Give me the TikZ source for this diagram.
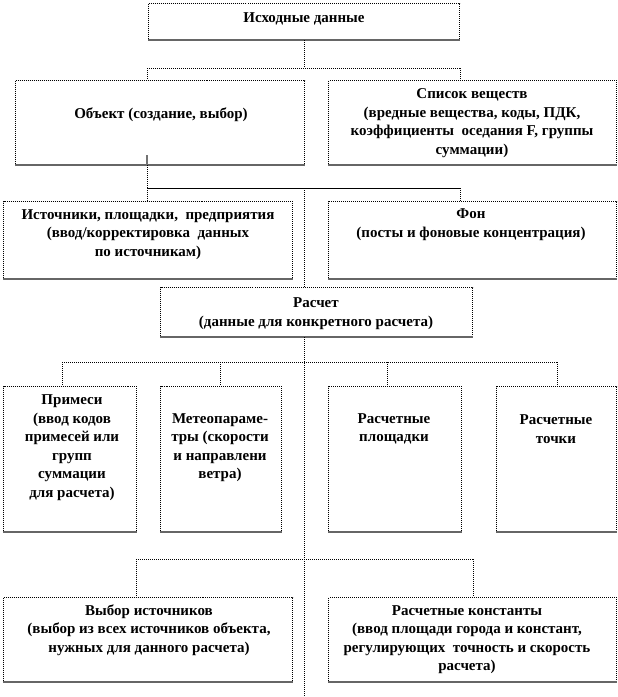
\documentclass[tikz,border=0pt]{standalone}
\usepackage{fontspec}
\setmainfont{Liberation Serif}
\begin{document}
\begin{tikzpicture}[x=1pt,y=-1pt,
  box/.style={draw=black,dash pattern=on 1pt off 1pt,line width=1pt,anchor=north west,inner sep=0pt},
  txt/.style={font=\fontsize{15}{18.5}\selectfont\bfseries,align=center,inner sep=0pt},
  conn/.style={draw=black,dash pattern=on 1pt off 1pt,line width=1pt},
  sconn/.style={draw=black,line width=1pt},
  shadow/.style={draw=black!60,line width=1.2pt}]
\useasboundingbox (0,0) rectangle (618,697);
% boxes
\node[box,minimum width=311,minimum height=36] (top) at (148,3) {};
\node[box,minimum width=289,minimum height=84] (obj) at (15,80) {};
\node[box,minimum width=288,minimum height=84] (lst) at (328,80) {};
\node[box,minimum width=289,minimum height=77] (src) at (3,201) {};
\node[box,minimum width=288,minimum height=77] (fon) at (328,201) {};
\node[box,minimum width=312,minimum height=49] (calc) at (160,287) {};
\node[box,minimum width=133,minimum height=145] (prm) at (3,386) {};
\node[box,minimum width=121,minimum height=145] (met) at (160,386) {};
\node[box,minimum width=133,minimum height=145] (plo) at (328,386) {};
\node[box,minimum width=120,minimum height=145] (tch) at (496,386) {};
\node[box,minimum width=289,minimum height=84] (vyb) at (3,597) {};
\node[box,minimum width=288,minimum height=84] (kon) at (328,597) {};
\foreach \n in {top,obj,lst,src,fon,calc,prm,met,plo,tch,vyb,kon}
  \draw[shadow] (\n.south west) -- (\n.south east);
% texts
\node[txt] (ttop) at (304,19) {Исходные данные};
\node[txt] (tobj) at (161,115) {Объект (создание, выбор)};
\node[txt] (tlst) at (472,123) {Список веществ\\(вредные вещества, коды, ПДК,\\коэффициенты\ \ оседания F, группы\\суммации)};
\node[txt] (tsrc) at (148,234.5) {Источники, площадки,\ \ предприятия\\(ввод/корректировка\ \ данных\\по источникам)};
\node[txt] (tfon) at (471,224.5) {Фон\\(посты и фоновые концентрация)};
\node[txt] (tcalc) at (316,313.5) {Расчет\\(данные для конкретного расчета)};
\node[txt] (tprm) at (72,447.5) {Примеси\\(ввод кодов\\примесей или\\групп\\суммации\\для расчета)};
\node[txt] (tmet) at (220,447.5) {Метеопараме-\\тры (скорости\\и направлени\\ветра)};
\node[txt] (tplo) at (394,429) {Расчетные\\площадки};
\node[txt] (ttch) at (556,429) {Расчетные\\точки};
\node[txt] (tvyb) at (149,630) {Выбор источников\\(выбор из всех источников объекта,\\нужных для данного расчета)};
\node[txt] (tkon) at (467,639.5) {Расчетные константы\\(ввод площади города и констант,\\регулирующих\ \ точность и скорость\\расчета)};
% junction coordinates
\coordinate (a1) at (147,68);
\coordinate (a2) at (460,68);
\coordinate (g0) at (147,155);
\coordinate (b1) at (147,188);
\coordinate (b2) at (460,188);
\coordinate (bc) at (304,188);
\coordinate (c1) at (62,362);
\coordinate (c2) at (220,362);
\coordinate (c3) at (387,362);
\coordinate (c4) at (557,362);
\coordinate (d1) at (136,559);
\coordinate (d2) at (473,559);
\coordinate (bot) at (304,697);
% connectors
\draw[conn] (top.south) -- (top.south |- a1);
\draw[conn] (a1) -- (a2);
\draw[conn] (a1) -- (a1 |- obj.north);
\draw[conn] (a2) -- (a2 |- lst.north);
\draw[draw=black!55,line width=1.6pt] (g0) -- (g0 |- obj.south);
\draw[conn] (g0 |- obj.south) -- (b1);
\draw[sconn] (b1) -- (b2);
\draw[conn] (b1) -- (b1 |- src.north);
\draw[conn] (b2) -- (b2 |- fon.north);
\draw[conn] (bc) -- (calc.north -| bc);
\draw[conn] (calc.south -| bc) -- (bot);
\draw[conn] (c1) -- (c4);
\draw[conn] (c1) -- (c1 |- prm.north);
\draw[conn] (c2) -- (c2 |- met.north);
\draw[conn] (c3) -- (c3 |- plo.north);
\draw[conn] (c4) -- (c4 |- tch.north);
\draw[conn] (d1) -- (d2);
\draw[conn] (d1) -- (d1 |- vyb.north);
\draw[conn] (d2) -- (d2 |- kon.north);
\end{tikzpicture}
\end{document}
